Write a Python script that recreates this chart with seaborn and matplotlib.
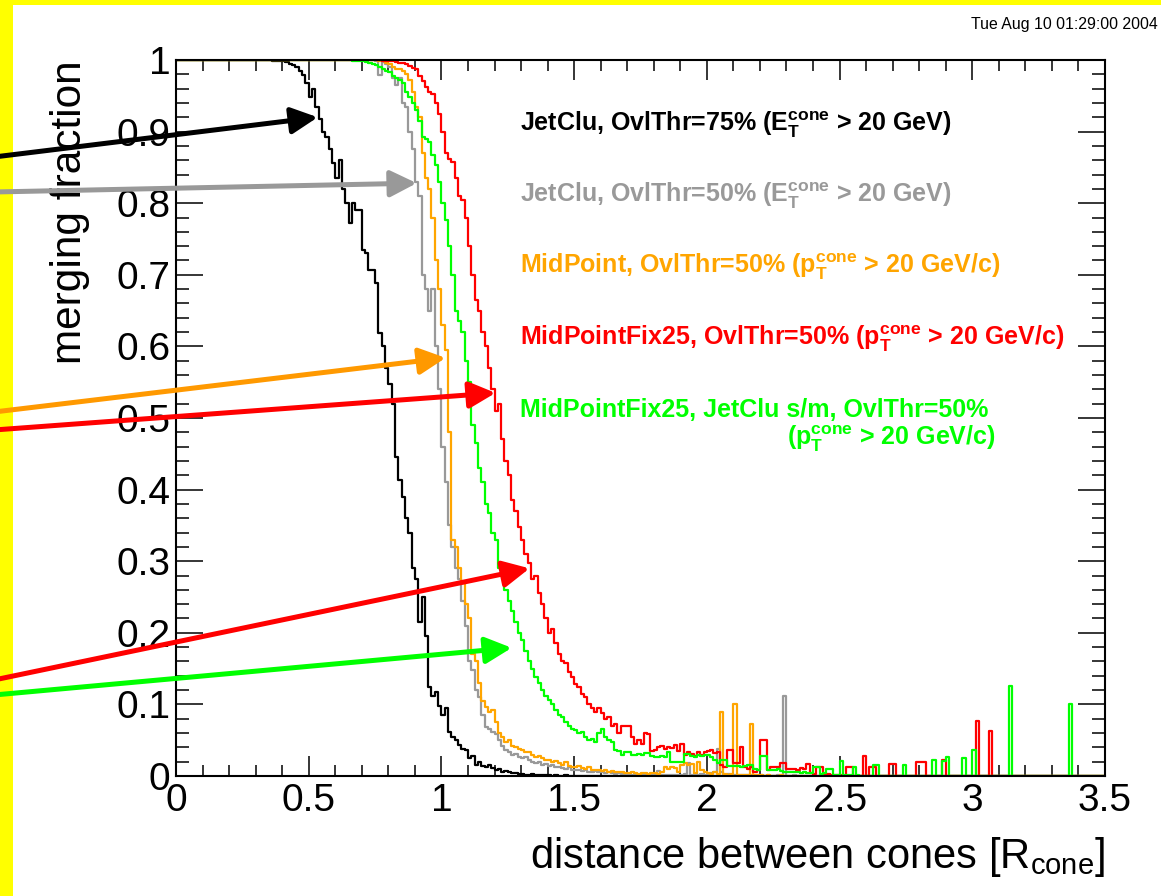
import numpy as np
import pandas as pd
import matplotlib
matplotlib.use("Agg")
import matplotlib.pyplot as plt
from matplotlib.patches import Rectangle
from matplotlib.ticker import MultipleLocator
import seaborn as sns

# ---------------- data (bin width 0.0125, 0 .. 3.5; 8 bins per 0.1) ----------------
BIN_WIDTH = 0.0125
X_MIN, X_MAX = 0.0, 3.5

jetclu75 = [
    1, 1, 1, 1, 1, 1, 1, 1,
    1, 1, 1, 1, 1, 1, 1, 1,
    1, 1, 1, 1, 1, 1, 1, 1,
    1, 1, 1, 1, 1, .999, .999, .998,
    .998, .997, .995, .993, .99, .985, .979, .968,
    .948, .96, .935, .918, .899, .893, .875, .856,
    .835, .86, .82, .80, .772, .80, .79, .79,
    .735, .73, .707, .707, .689, .619, .60, .57,
    .548, .52, .445, .413, .39, .36, .34, .29,
    .275, .215, .25, .195, .125, .112, .118, .098,
    .085, .095, .062, .055, .05, .043, .038, .036,
    .025, .028, .015, .02, .014, .013, .015, .011,
    .009, .01, .006, .007, .005, .004, .004, .003,
    .003, .002, .002, .003, .002, .001, .002, .001,
    .001, 0, .001, 0, 0, .001, 0, 0,
    0, 0, 0, 0, 0, 0, 0, 0, 0, 0, 0, 0, 0, 0, 0, 0,
    0, 0, 0, 0, 0, 0, 0, 0, 0, 0, 0, 0, 0, 0, 0, 0,
    0, 0, 0, 0, 0, 0, 0, 0, 0, 0, 0, 0, 0, 0, 0, 0,
    0, 0, 0, 0, 0, 0, 0, 0, 0, 0, 0, 0, 0, 0, 0, 0,
    0, 0, 0, 0, 0, 0, 0, 0, 0, 0, 0, 0, 0, 0, 0, 0,
    0, 0, 0, 0, 0, 0, 0, 0, 0, 0, 0, 0, 0, 0, 0, 0,
    0, 0, 0, 0, 0, 0, 0, 0, 0, 0, 0, 0, 0, 0, 0, 0,
    0, 0, 0, 0, 0, 0, 0, 0, 0, 0, 0, 0, 0, 0, 0, 0,
    0, 0, 0, 0, 0, 0, 0, 0, 0, 0, 0, 0, 0, 0, 0, 0,
    0, 0, 0, 0, 0, 0, 0, 0, 0, 0, 0, 0, 0, 0, 0, 0,
]

jetclu50 = [
    1, 1, 1, 1, 1, 1, 1, 1,
    1, 1, 1, 1, 1, 1, 1, 1,
    1, 1, 1, 1, 1, 1, 1, 1,
    1, 1, 1, 1, 1, 1, 1, 1,
    1, 1, 1, 1, 1, 1, 1, 1,
    1, 1, 1, 1, 1, 1, 1, 1,
    1, 1, 1, 1, 1, 1, 1, 1,
    1, 1, 1, 1, .999, .979, .997, .995,
    .99, .975, .965, .975, .94, .935, .90, .875,
    .83, .81, .70, .68, .65, .68, .60, .54,
    .46, .41, .35, .32, .29, .275, .245, .21,
    .16, .148, .12, .11, .085, .068, .065, .062,
    .058, .05, .042, .036, .034, .03, .031, .027,
    .025, .026, .022, .02, .018, .019, .016, .017,
    .014, .015, .012, .013, .011, .01, .012, .009,
    .008, .009, .007, .008, .006, .006, .007, .005,
    .005, .004, .005, .004, .003, .004, .003, .003,
    .003, .002, .003, .002, .002, .003, .002, .002,
    .002, .007, .002, .001, .002, .002, .001, .002,
    .002, .003, .018, .002, .003, .002, .003, .002,
    .003, .004, .005, .038, .006, .002, .003, .002,
    .002, .001, .002, .001, .001, .002, .001, .001,
    .001, 0, .001, 0, 0, .001, 0, .112,
    0, 0, .001, 0, 0, 0, 0, 0,
    0, 0, 0, 0, 0, 0, 0, 0, 0, 0, 0, 0, 0, 0, 0, 0,
    0, 0, 0, 0, 0, 0, 0, 0, 0, 0, 0, 0, 0, 0, 0, 0,
    0, 0, 0, 0, 0, 0, 0, 0, 0, 0, 0, 0, 0, 0, 0, 0,
    0, 0, 0, 0, 0, 0, 0, 0, 0, 0, 0, 0, 0, 0, 0, 0,
    0, 0, 0, 0, 0, 0, 0, 0, 0, 0, 0, 0, 0, 0, 0, 0,
    0, 0, 0, 0, 0, 0, 0, 0,
]

midpoint50 = [
    1, 1, 1, 1, 1, 1, 1, 1,
    1, 1, 1, 1, 1, 1, 1, 1,
    1, 1, 1, 1, 1, 1, 1, 1,
    1, 1, 1, 1, 1, 1, 1, 1,
    1, 1, 1, 1, 1, 1, 1, 1,
    1, 1, 1, 1, 1, 1, 1, 1,
    1, 1, 1, 1, 1, 1, 1, 1,
    1, 1, 1, 1, 1, .999, .998, .996,
    .994, .99, .988, .987, .985, .981, .972, .955,
    .935, .92, .87, .835, .82, .78, .72, .68,
    .63, .595, .48, .33, .32, .29, .27, .24,
    .22, .17, .16, .13, .105, .096, .09, .092,
    .075, .06, .055, .048, .05, .042, .04, .038,
    .036, .033, .034, .029, .027, .028, .025, .022,
    .023, .02, .021, .018, .016, .019, .014, .013,
    .012, .014, .011, .01, .012, .009, .008, .009,
    .007, .008, .006, .007, .005, .006, .005, .004,
    .004, .005, .004, .003, .004, .004, .003, .004,
    .004, .003, .005, .013, .01, .012, .011, .005,
    .015, .018, .016, .017, .004, .02, .008, .005,
    .004, .003, .005, .003, .09, .003, .002, .003,
    .10, .002, .001, .002, .001, .072, .001, .001,
    .001, 0, .001, 0, 0, 0, .001, 0,
    0, 0, 0, 0, 0, 0, 0, 0, 0, 0, 0, 0, 0, 0, 0, 0,
    0, 0, 0, 0, 0, 0, 0, 0, 0, 0, 0, 0, 0, 0, 0, 0,
    0, 0, 0, 0, 0, 0, 0, 0, 0, 0, 0, 0, 0, 0, 0, 0,
    0, 0, 0, 0, 0, 0, 0, 0, 0, 0, 0, 0, 0, 0, 0, 0,
    0, 0, 0, 0, 0, 0, 0, 0, 0, 0, 0, 0, 0, 0, 0, 0,
    0, 0, 0, 0, 0, 0, 0, 0, 0, 0, 0, 0, 0, 0, 0, 0,
]

midpointfix25 = [
    1, 1, 1, 1, 1, 1, 1, 1,
    1, 1, 1, 1, 1, 1, 1, 1,
    1, 1, 1, 1, 1, 1, 1, 1,
    1, 1, 1, 1, 1, 1, 1, 1,
    1, 1, 1, 1, 1, 1, 1, 1,
    1, 1, 1, 1, 1, 1, 1, 1,
    1, 1, 1, 1, 1, 1, 1, 1,
    1, 1, 1, 1, 1, 1, .999, .999,
    .998, .998, .997, .996, .996, .994, .991, .989,
    .987, .978, .971, .962, .956, .953, .94, .925,
    .90, .87, .862, .857, .835, .81, .805, .78,
    .74, .70, .665, .65, .62, .60, .57, .54,
    .51, .52, .47, .44, .42, .385, .37, .348,
    .33, .31, .297, .275, .28, .255, .24, .22,
    .20, .205, .186, .17, .16, .158, .145, .138,
    .128, .125, .115, .11, .10, .095, .09, .095,
    .088, .08, .083, .07, .072, .06, .07, .07,
    .07, .055, .045, .05, .045, .06, .058, .035,
    .036, .04, .042, .038, .04, .039, .043, .035,
    .045, .03, .033, .031, .028, .033, .03, .034,
    .035, .036, .032, .033, .015, .012, .036, .036,
    .018, .018, .04, .012, .01, .012, .006, .008,
    .05, .05, .008, .013, .013, .012, .018, .018,
    .01, .01, .01, .009, .011, .01, .017, .004,
    .003, .012, .012, .002, .003, .002, .001, .002,
    .001, 0, .012, .012, 0, 0, 0, .028,
    0, .013, .013, 0, 0, 0, 0, .017,
    .017, 0, 0, 0, 0, 0, 0, .02,
    .02, .02, 0, 0, 0, 0, 0, .023,
    0, 0, 0, 0, 0, 0, 0, 0,
    0, .077, 0, 0, 0, .063, 0, 0,
    0, 0, 0, 0, 0, 0, 0, 0, 0, 0, 0, 0, 0, 0, 0, 0,
    0, 0, 0, 0, 0, 0, 0, 0, 0, 0, 0, 0, 0, 0, 0, 0,
]

midpointfix25_jcsm = [
    1, 1, 1, 1, 1, 1, 1, 1,
    1, 1, 1, 1, 1, 1, 1, 1,
    1, 1, 1, 1, 1, 1, 1, 1,
    1, 1, 1, 1, 1, 1, 1, 1,
    1, 1, 1, 1, 1, 1, 1, 1,
    1, 1, 1, 1, 1, 1, 1, 1,
    1, 1, 1, 1, 1, .999, .999, .998,
    .998, .997, .996, .995, .993, .99, .988, .985,
    .983, .977, .975, .972, .968, .956, .948, .94,
    .93, .915, .893, .89, .885, .867, .853, .83,
    .80, .777, .74, .70, .65, .635, .62, .58,
    .55, .49, .465, .43, .41, .38, .367, .34,
    .33, .29, .28, .26, .245, .23, .215, .20,
    .19, .175, .16, .15, .138, .13, .12, .112,
    .106, .10, .092, .085, .082, .075, .07, .066,
    .064, .06, .062, .055, .05, .052, .047, .06,
    .065, .055, .05, .047, .037, .035, .03, .034,
    .034, .03, .03, .031, .029, .032, .032, .028,
    .027, .026, .028, .026, .033, .019, .02, .019,
    .019, .031, .031, .028, .027, .029, .028, .03,
    .03, .026, .022, .018, .022, .022, .014, .014,
    .014, .014, .013, .014, .016, .016, .01, .008,
    .028, .028, .009, .009, .008, .01, .007, .006,
    .006, .005, .006, .005, .004, .005, .004, .004,
    .012, .012, .003, .004, .01, .01, .002, .002,
    .021, .002, .001, .001, .013, .001, 0, 0,
    0, 0, .015, .015, 0, 0, 0, 0,
    0, 0, 0, .015, 0, 0, 0, 0,
    0, 0, 0, 0, .023, 0, 0, .021,
    .026, 0, 0, 0, 0, .025, 0, 0,
    .036, 0, 0, 0, 0, 0, 0, 0,
    0, 0, 0, .126, 0, 0, 0, 0,
    0, 0, 0, 0, 0, 0, 0, 0,
    0, 0, 0, 0, 0, .10, 0, 0,
    0, 0, 0, 0, 0, 0, 0, 0,
]

series_names = ["jetclu75", "jetclu50", "midpoint50", "midpointfix25", "midpointfix25_jcsm"]
series_values = [jetclu75, jetclu50, midpoint50, midpointfix25, midpointfix25_jcsm]
series_colors = ["#000000", "#999999", "#ffa500", "#ff0000", "#00ff00"]

legend_labels = [
    r"JetClu, OvlThr=75% ($E_T^{cone}$ > 20 GeV)",
    r"JetClu, OvlThr=50% ($E_T^{cone}$ > 20 GeV)",
    r"MidPoint, OvlThr=50% ($p_T^{cone}$ > 20 GeV/c)",
    r"MidPointFix25, OvlThr=50% ($p_T^{cone}$ > 20 GeV/c)",
    r"MidPointFix25, JetClu s/m, OvlThr=50%",
]
legend_extra_line = r"($p_T^{cone}$ > 20 GeV/c)"

xtick_values = [0, 0.5, 1, 1.5, 2, 2.5, 3, 3.5]
xtick_labels = ["0", "0.5", "1", "1.5", "2", "2.5", "3", "3.5"]
ytick_values = [0, 0.1, 0.2, 0.3, 0.4, 0.5, 0.6, 0.7, 0.8, 0.9, 1.0]
ytick_labels = ["0", "0.1", "0.2", "0.3", "0.4", "0.5", "0.6", "0.7", "0.8", "0.9", "1"]

# arrows: tip on a curve (data units), tail at the left image edge (figure pixels from bottom)
arrow_colors = ["#000000", "#999999", "#ff9900", "#ff0000", "#ff0000", "#00ff00"]
arrow_tip_x = [0.534, 0.907, 1.016, 1.204, 1.332, 1.265]
arrow_tip_y = [0.920, 0.828, 0.584, 0.535, 0.290, 0.179]
arrow_tail_ypx = [739, 704, 484, 466, 216, 201]

# ---------------- style ----------------
sns.set_theme(style="white")
plt.rcParams["font.family"] = ["Liberation Sans", "DejaVu Sans"]
plt.rcParams["mathtext.fontset"] = "custom"
plt.rcParams["mathtext.rm"] = "Liberation Sans"
plt.rcParams["mathtext.bf"] = "Liberation Sans:bold"
plt.rcParams["mathtext.default"] = "regular"
for k in ["text.color", "axes.labelcolor", "xtick.color", "ytick.color", "axes.edgecolor"]:
    plt.rcParams[k] = "black"

W, H = 1161, 896
fig = plt.figure(figsize=(W / 100, H / 100), dpi=100)
fig.patch.set_facecolor("#ffff00")
fig.add_artist(Rectangle((13 / W, 0), 1, 1 - 5 / H, transform=fig.transFigure,
                         facecolor="white", edgecolor="none", zorder=-10))
ax = fig.add_axes([176 / W, 120 / H, 929 / W, 716 / H])
ax.set_facecolor("white")

n_bins = int(round((X_MAX - X_MIN) / BIN_WIDTH))
edges = [X_MIN + i * BIN_WIDTH for i in range(n_bins + 1)]
centers = [e + BIN_WIDTH / 2 for e in edges[:-1]]

for name, vals, col in zip(series_names, series_values, series_colors):
    assert len(vals) == len(centers), (name, len(vals))
    df = pd.DataFrame({"distance": centers, "fraction": [float(v) for v in vals]})
    sns.histplot(data=df, x="distance", weights="fraction", bins=edges,
                 element="step", fill=False, color=col, linewidth=1.6, ax=ax)

ax.set_xlim(X_MIN, X_MAX)
ax.set_ylim(0, 1)
ax.set_xticks(xtick_values, xtick_labels)
ax.set_yticks(ytick_values, ytick_labels)
ax.xaxis.set_minor_locator(MultipleLocator(0.1))
ax.yaxis.set_minor_locator(MultipleLocator(0.02))
ax.tick_params(axis="x", which="major", direction="in", length=14.4, width=1.1,
               bottom=True, top=True, labelsize=28, pad=5)
ax.tick_params(axis="x", which="minor", direction="in", length=8, width=1.1,
               bottom=True, top=True)
ax.tick_params(axis="y", which="major", direction="in", length=19.4, width=1.1,
               left=True, right=True, labelsize=28, pad=4)
ax.tick_params(axis="y", which="minor", direction="in", length=9.4, width=1.1,
               left=True, right=True)
for sp in ax.spines.values():
    sp.set_linewidth(1.5)
    sp.set_color("black")

ax.set_ylabel("merging fraction", fontsize=30.5, loc="top")
ax.yaxis.set_label_coords(-0.093, 1.0)
ax.set_xlabel(r"distance between cones [R$_{cone}$]", fontsize=30, loc="right")
ax.xaxis.set_label_coords(1.0, -0.082)

# legend-like labels
leg_y = [0.901, 0.802, 0.703, 0.602, 0.501]
for lab, col, yy in zip(legend_labels, series_colors, leg_y):
    ax.text(0.37, yy, lab, transform=ax.transAxes, color=col, fontsize=18,
            fontweight="bold", ha="left", va="baseline")
ax.text(0.658, 0.462, legend_extra_line, transform=ax.transAxes, color=series_colors[4],
        fontsize=18, fontweight="bold", ha="left", va="baseline")

# arrows
for col, tx, ty, tail in zip(arrow_colors, arrow_tip_x, arrow_tip_y, arrow_tail_ypx):
    ax.annotate("", xy=(tx, ty), xycoords="data", xytext=(-6, tail),
                textcoords="figure pixels", annotation_clip=False,
                arrowprops=dict(arrowstyle="-|>,head_length=0.8,head_width=0.4",
                                mutation_scale=20, lw=3.6, color=col,
                                shrinkA=0, shrinkB=0, clip_on=False),
                zorder=5)

fig.text(1158 / W, 1 - 25 / H, "Tue Aug 10 01:29:00 2004", ha="right", va="center",
         fontsize=11.4, color="black")

fig.savefig("out.png", dpi=100, facecolor=fig.get_facecolor())
